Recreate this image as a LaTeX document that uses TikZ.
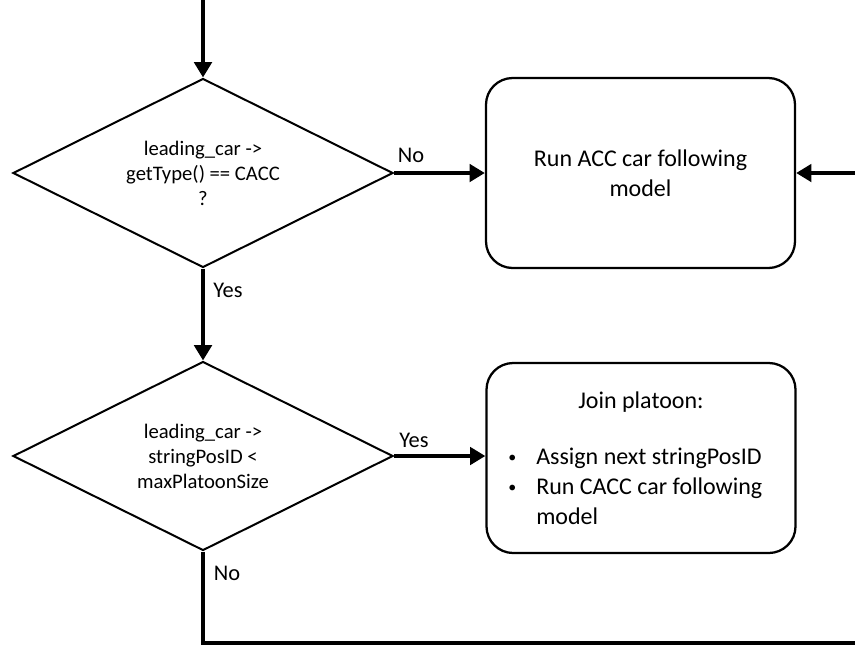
\documentclass[tikz,border=0pt]{standalone}
\usepackage{fontspec}
\setmainfont{Carlito}
\usetikzlibrary{shapes.geometric,arrows.meta}
\newcommand{\smallbul}{\raisebox{1.6pt}{\fontsize{12}{12}\selectfont\textbullet}}
\begin{document}
\begin{tikzpicture}[x=0.75pt,y=-0.75pt,
  decision/.style={draw, line width=1.5pt, diamond, inner sep=0pt, aspect=2,
    minimum width=285pt, minimum height=141.75pt, align=center,
    font=\fontsize{15.5}{18.75}\selectfont},
  process/.style={draw, line width=1.7pt, rounded corners=20pt,
    minimum width=231.75pt, minimum height=142.5pt, align=center,
    font=\fontsize{18}{22.5}\selectfont},
  flow/.style={line width=3pt, -{Triangle[length=11.5pt,width=13pt]}},
  plain/.style={line width=3pt},
  lbl/.style={font=\fontsize{16.8}{20}\selectfont, inner sep=0pt},
  btxt/.style={font=\fontsize{18}{22.5}\selectfont, inner sep=0pt, align=left}]
\path[use as bounding box] (0,0) rectangle (855,647);

\node[decision] (d1) at (203,173) {leading\_car ->\\getType() == CACC\\?};
\node[decision] (d2) at (203,456) {leading\_car ->\\stringPosID <\\maxPlatoonSize};

\node[process] (b1) at (640.5,173) {Run ACC car following\\model};
\node[process] (b2) at (641,458) {};
\node[btxt] (b2h) at (641,402) {Join platoon:};
\node[btxt, anchor=north west] (b2l) at (508,443)
  {\begin{tabular}{@{}p{21pt}@{}l@{}}\smallbul & Assign next stringPosID\\
   \smallbul & Run CACC car following\\ & model\end{tabular}};

\coordinate (top) at (203,0);
\coordinate (rin) at (855,173);
\coordinate (corner) at (203,643);
\coordinate (rout) at (855,643);

\draw[flow] (top) -- (d1.north);
\draw[flow] (d1.east) -- (b1.west);
\draw[flow] (rin) -- (b1.east);
\draw[flow] (d1.south) -- (d2.north);
\draw[flow] (d2.east) -- (b2.west |- d2.east);
\draw[plain] (d2.south) -- (corner) -- (rout);

\node[lbl] (lno1) at (411,155) {No};
\node[lbl] (lyes1) at (228,290) {Yes};
\node[lbl] (lyes2) at (414,440) {Yes};
\node[lbl] (lno2) at (227,573) {No};
\end{tikzpicture}
\end{document}
